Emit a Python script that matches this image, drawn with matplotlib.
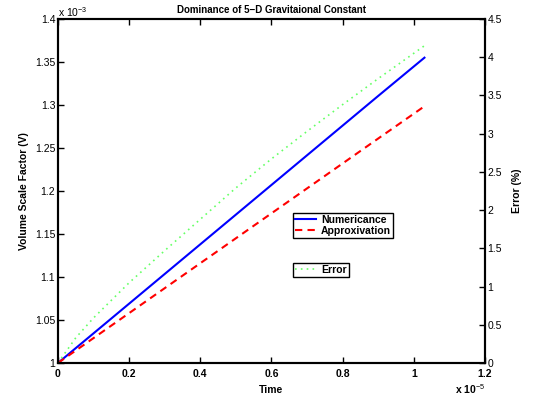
import matplotlib
matplotlib.use('Agg')
import matplotlib.pyplot as plt

plt.rcParams['font.family'] = ['Liberation Sans', 'DejaVu Sans']
plt.rcParams['mathtext.fontset'] = 'custom'
plt.rcParams['mathtext.rm'] = 'Liberation Sans'

# time in units of 1e-5, volume in units of 1e-3
t = [0, 0.05, 0.1, 0.2, 0.3, 0.4, 0.5, 0.6, 0.7, 0.8, 0.9, 1.03]
numeric = [1.0, 1.0173, 1.0345, 1.069, 1.1035, 1.138, 1.1725, 1.207, 1.2415, 1.276, 1.3105, 1.355]
approx = [1.0, 1.0145, 1.029, 1.058, 1.087, 1.116, 1.145, 1.174, 1.203, 1.232, 1.261, 1.2985]
error = [0, 0.33, 0.59, 1.05, 1.47, 1.88, 2.29, 2.67, 3.03, 3.38, 3.72, 4.15]

xticks = [0, 0.2, 0.4, 0.6, 0.8, 1, 1.2]
yticks = [1, 1.05, 1.1, 1.15, 1.2, 1.25, 1.3, 1.35, 1.4]
eticks = [0, 0.5, 1, 1.5, 2, 2.5, 3, 3.5, 4, 4.5]

fig = plt.figure(figsize=(5.33, 4.03), dpi=100)
ax = fig.add_axes([0.1088, 0.0993, 0.801, 0.8536])
ax2 = ax.twinx()

l1, = ax.plot(t, numeric, color='#0000ff', lw=1.5, label='Numericance')
l2, = ax.plot(t, approx, color='#ff0000', lw=1.5, ls=(0, (3.5, 2.5)), label='Approxivation')
l3, = ax2.plot(t, error, color='#66ff66', lw=1.2, ls=(0, (1, 2.5)), label='Error')

ax.set_xlim(0, 1.2)
ax.set_ylim(1, 1.4)
ax2.set_ylim(0, 4.5)
ax.set_xticks(xticks)
ax.set_xticklabels(['%g' % v for v in xticks], fontweight='bold')
ax.set_yticks(yticks)
ax.set_yticklabels(['%g' % v for v in yticks])
ax2.set_yticks(eticks)
ax2.set_yticklabels(['%g' % v for v in eticks])

for a in (ax, ax2):
    a.tick_params(direction='in', length=4, width=1, labelsize=7.5, pad=2)
    for s in a.spines.values():
        s.set_linewidth(1.5)
ax.tick_params(top=True)
ax.tick_params(axis='x', pad=4)

ax.set_title('Dominance of 5\u2212D Gravitaional Constant', fontsize=7, fontweight='bold', pad=4)
ax.set_xlabel('Time', fontsize=7.5, fontweight='bold', labelpad=5)
ax.set_ylabel('Volume Scale Factor (V)', fontsize=7.5, fontweight='bold', labelpad=4)
ax2.set_ylabel('Error (%)', fontsize=7.5, fontweight='bold', labelpad=7)

ax.text(0, 1.0, r'x 10$^{-3}$', transform=ax.transAxes, fontsize=7.5, ha='left', va='bottom')
ax.text(1.0, -0.055, r'x 10$^{-5}$', transform=ax.transAxes, fontsize=7.5,
        fontweight='bold', ha='right', va='top')

leg1 = ax.legend(handles=[l1, l2], loc='upper left', bbox_to_anchor=(0.55, 0.436),
                 borderaxespad=0, fontsize=7.5, handlelength=2.0, borderpad=0.2,
                 labelspacing=0.1, handletextpad=0.5, fancybox=False,
                 edgecolor='black', framealpha=1)
for txt in leg1.get_texts():
    txt.set_fontweight('bold')
leg1.get_frame().set_linewidth(1)
leg2 = ax2.legend(handles=[l3], loc='upper left', bbox_to_anchor=(0.55, 0.291),
                  borderaxespad=0, fontsize=7.5, handlelength=2.0, borderpad=0.2,
                  handletextpad=0.5, fancybox=False, edgecolor='black', framealpha=1)
for txt in leg2.get_texts():
    txt.set_fontweight('bold')
leg2.get_frame().set_linewidth(1)

fig.savefig('out.png', dpi=100)
